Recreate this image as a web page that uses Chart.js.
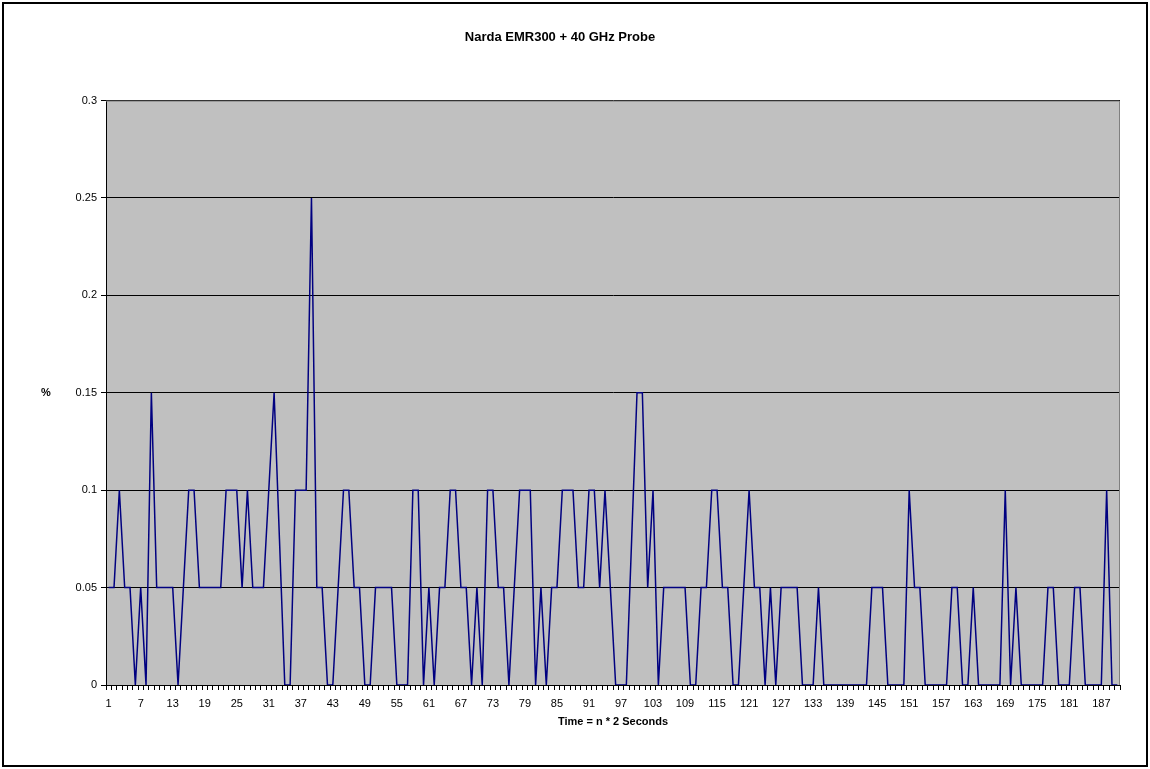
<!DOCTYPE html>
<html>
<head>
<meta charset="utf-8">
<script src="https://cdn.jsdelivr.net/npm/chart.js@4"></script>
<style>
  html, body { margin: 0; padding: 0; background: #fff; }
  #box { width: 1150px; height: 769px; position: relative; }
</style>
</head>
<body>
<div id="box"><canvas id="grafico" width="1150" height="769"></canvas></div>
<script>
// values, one per 2-second sample (n = 1..190)
const lectura1 = [0.05, 0.05, 0.1, 0.05, 0.05, 0, 0.05, 0, 0.15, 0.05,
                  0.05, 0.05, 0.05, 0, 0.05, 0.1, 0.1, 0.05, 0.05, 0.05,
                  0.05, 0.05, 0.1, 0.1, 0.1, 0.05, 0.1, 0.05, 0.05, 0.05,
                  0.1, 0.15, 0.075, 0, 0, 0.1, 0.1, 0.1, 0.25, 0.05,
                  0.05, 0, 0, 0.05, 0.1, 0.1, 0.05, 0.05, 0, 0]
const lectura2 = [0.05, 0.05, 0.05, 0.05, 0, 0, 0, 0.1, 0.1, 0,
                  0.05, 0, 0.05, 0.05, 0.1, 0.1, 0.05, 0.05, 0, 0.05,
                  0, 0.1, 0.1, 0.05, 0.05, 0, 0.05, 0.1, 0.1, 0.1,
                  0, 0.05, 0, 0.05, 0.05, 0.1, 0.1, 0.1, 0.05, 0.05,
                  0.1, 0.1, 0.05, 0.1, 0.05, 0, 0, 0, 0.075, 0.15]
const lectura3 = [0.15, 0.05, 0.1, 0, 0.05, 0.05, 0.05, 0.05, 0.05, 0,
                  0, 0.05, 0.05, 0.1, 0.1, 0.05, 0.05, 0, 0, 0.05,
                  0.1, 0.05, 0.05, 0, 0.05, 0, 0.05, 0.05, 0.05, 0.05,
                  0, 0, 0, 0.05, 0, 0, 0, 0, 0, 0,
                  0, 0, 0, 0.05, 0.05, 0.05, 0, 0, 0, 0]
const lectura4 = [0.1, 0.05, 0.05, 0, 0, 0, 0, 0, 0.05, 0.05,
                  0, 0, 0.05, 0, 0, 0, 0, 0, 0.1, 0,
                  0.05, 0, 0, 0, 0, 0, 0.05, 0.05, 0, 0,
                  0, 0.05, 0.05, 0, 0, 0, 0, 0.1, 0, 0]
const valores = lectura1.concat(lectura2, lectura3, lectura4)

// sample numbers on the category axis, and the ones that get a label
const categorias = valores.map((v, i) => String(i + 1))
const etiquetasX = ['1', '7', '13', '19', '25', '31', '37', '43', '49', '55', '61', '67', '73', '79',
                    '85', '91', '97', '103', '109', '115', '121', '127', '133', '139', '145', '151',
                    '157', '163', '169', '175', '181', '187']
const ticksY = [0, 0.05, 0.1, 0.15, 0.2, 0.25, 0.3]

const fuente = "'Liberation Sans', Arial, sans-serif"

// white page, outer frame, grey plot area
const fondo = {
    id: 'fondo',
    beforeDraw(chart) {
        const ctx = chart.ctx
        const a = chart.chartArea
        ctx.save()
        ctx.fillStyle = '#fff'
        ctx.fillRect(0, 0, chart.width, chart.height)
        ctx.strokeStyle = '#000'
        ctx.lineWidth = 2
        ctx.strokeRect(3, 3, chart.width - 6, chart.height - 6)
        ctx.fillStyle = '#c0c0c0'
        ctx.fillRect(a.left, a.top, a.right - a.left, a.bottom - a.top)
        ctx.restore()
    },
    afterDraw(chart) {
        const ctx = chart.ctx
        const a = chart.chartArea
        const y = chart.scales.y
        ctx.save()
        ctx.strokeStyle = '#808080'
        ctx.lineWidth = 1
        ctx.beginPath()
        ctx.moveTo(a.left, a.top + 0.5)
        ctx.lineTo(a.right - 0.5, a.top + 0.5)
        ctx.lineTo(a.right - 0.5, a.bottom)
        ctx.stroke()
        // horizontal "%" axis title next to 0.15
        ctx.fillStyle = '#000'
        ctx.font = 'bold 11px ' + fuente
        ctx.textAlign = 'center'
        ctx.textBaseline = 'middle'
        ctx.fillText('%', 46, y.getPixelForValue(0.15))
        ctx.restore()
    }
}

const config = {
    type: 'line',
    data: {
        labels: categorias,
        datasets: [{
            label: 'Narda EMR300 + 40 GHz Probe',
            data: valores,
            borderColor: '#000080',
            borderWidth: 1.5,
            pointRadius: 0,
            tension: 0,
            fill: false
        }]
    },
    options: {
        responsive: false,
        animation: false,
        layout: { padding: { left: 0, right: 30, top: 0, bottom: 34 } },
        plugins: {
            legend: { display: false },
            tooltip: { enabled: false },
            title: {
                display: true,
                text: 'Narda EMR300 + 40 GHz Probe',
                color: '#000',
                font: { family: fuente, size: 13, weight: 'bold' },
                padding: { top: 30, bottom: 55 }
            }
        },
        scales: {
            x: {
                type: 'category',
                offset: true,
                grid: { offset: true, drawOnChartArea: false, drawTicks: true, tickLength: 5, color: '#000' },
                border: { color: '#000', width: 1 },
                ticks: {
                    autoSkip: false,
                    maxRotation: 0,
                    minRotation: 0,
                    padding: 7,
                    color: '#000',
                    font: { family: fuente, size: 11 },
                    callback: function (val) {
                        const t = this.getLabelForValue(val)
                        return etiquetasX.includes(t) ? t : ''
                    }
                },
                title: {
                    display: true,
                    text: 'Time = n * 2 Seconds',
                    color: '#000',
                    font: { family: fuente, size: 11, weight: 'bold' },
                    padding: { top: 0, bottom: 6 }
                },
                afterFit: (s) => { s.height = 50 }
            },
            y: {
                min: 0,
                max: 0.3,
                afterBuildTicks: (s) => { s.ticks = ticksY.map(v => ({ value: v })) },
                grid: { color: '#000', lineWidth: 1, tickLength: 5 },
                border: { color: '#000', width: 1 },
                ticks: {
                    padding: 4,
                    color: '#000',
                    font: { family: fuente, size: 11 },
                    callback: (v) => String(Number(v.toFixed(2)))
                },
                afterFit: (s) => { s.width = 106 }
            }
        }
    },
    plugins: [fondo]
}

const chart = document.getElementById('grafico')
const myChart = new Chart(chart, config)
</script>
</body>
</html>
